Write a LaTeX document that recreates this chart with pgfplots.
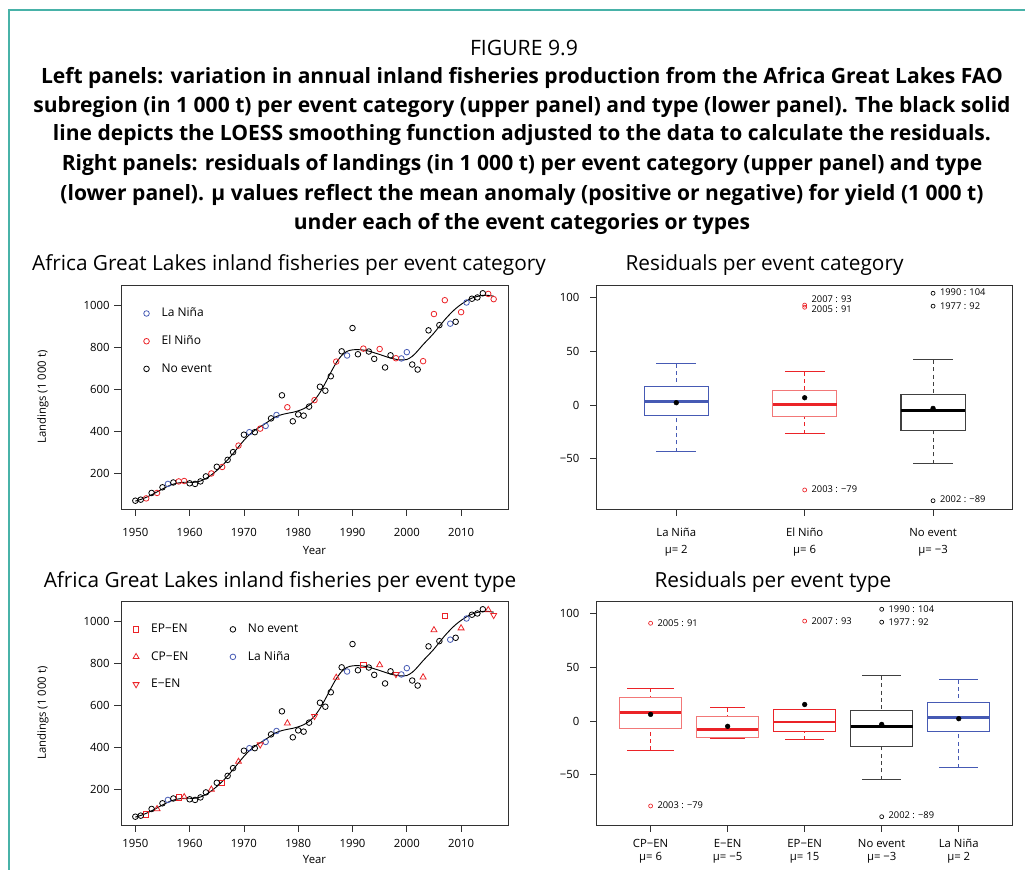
\documentclass[border=0pt]{standalone}
\usepackage{pgfplots}
\pgfplotsset{compat=1.18}
\usepgfplotslibrary{statistics}
\usepackage{pgfplotstable}
\usepackage{fontspec}
\setmainfont{Open Sans}
\definecolor{rblue}{RGB}{70,90,180}
\definecolor{rred}{RGB}{235,35,40}
\definecolor{lred}{RGB}{242,120,120}
\definecolor{tealb}{RGB}{72,178,168}
\definecolor{frame}{RGB}{50,50,50}

% La Nina years
\pgfplotstableread{
year val
1956 148
1971 395
1974 425
1976 477
1989 761
1999 747
2000 777
2008 913
2011 1014
}\tLN
% EP-EN
\pgfplotstableread{
year val
1952 79
1958 160
1966 229
1992 794
2007 1025
}\tEP
% CP-EN
\pgfplotstableread{
year val
1954 105
1959 162
1964 198
1969 331
1978 514
1987 732
1995 792
2003 734
2005 959
2010 968
2015 1055
}\tCP
% E-EN
\pgfplotstableread{
year val
1973 412
1983 548
1998 748
2016 1030
}\tE
% No event
\pgfplotstableread{
year val
1950 68
1951 73
1953 105
1955 132
1957 155
1960 151
1961 148
1962 160
1963 184
1965 230
1967 263
1968 300
1970 383
1972 395
1975 461
1977 571
1979 447
1980 480
1981 474
1982 517
1984 612
1985 593
1986 662
1988 781
1990 892
1991 767
1993 780
1994 745
1996 704
1997 762
2001 718
2002 694
2004 881
2006 906
2009 922
2012 1032
2013 1038
2014 1058
}\tN
% LOESS fit
\pgfplotstableread{
year val
1950 66
1951 74
1952 84
1953 96
1954 110
1955 124
1956 137
1957 147
1958 153
1959 156
1960 156
1961 156
1962 162
1963 174
1964 191
1965 212
1966 236
1967 263
1968 293
1969 325
1970 356
1971 383
1972 404
1973 421
1974 437
1975 455
1976 470
1977 479
1978 485
1979 490
1980 497
1981 507
1982 523
1983 548
1984 584
1985 630
1986 680
1987 726
1988 761
1989 781
1990 788
1991 789
1992 787
1993 782
1994 774
1995 766
1996 757
1997 749
1998 743
1999 740
2000 742
2001 757
2002 783
2003 813
2004 840
2005 868
2006 900
2007 932
2008 960
2009 985
2010 1005
2011 1022
2012 1035
2013 1043
2014 1048
2015 1048
2016 1044
}\tL

\tikzset{lab/.style={anchor=west, inner sep=0pt, xshift=5pt, font=\fontsize{7}{8}\selectfont}}
\pgfplotsset{
  base/.style={scale only axis,
    axis line style={frame, line width=0.7pt},
    tick style={frame, line width=0.6pt},
    tick align=outside, major tick length=5pt,
    xtick pos=bottom, ytick pos=left,
    ticklabel style={font=\fontsize{8.5}{10}\selectfont},
    xticklabel style={yshift=-6pt},
    /pgf/number format/assume math mode=true,
    /pgf/number format/set thousands separator={},
  },
  leftax/.style={base, width=290.25pt, height=168pt,
    xmin=1947.36, xmax=2018.64, ymin=28.4, ymax=1097.6,
    xtick={1950,1960,...,2010}, ytick={200,400,...,1000},
    xlabel={Year}, ylabel={Landings (1 000 t)},
    label style={font=\fontsize{8.5}{10}\selectfont},
    xlabel style={at={(axis description cs:0.5,-0.1845)}, anchor=center},
    ylabel style={at={(axis description cs:-0.2016,0.5)}, anchor=center},
    legend image code/.code={\draw[##1] plot coordinates {(5pt,0pt)}; \path (0pt,0pt) (14pt,0pt);},
    legend style={draw=none, fill=none, font=\fontsize{9}{10}\selectfont,
      row sep=8.6pt, inner sep=0pt, cells={anchor=west}},
  },
  rightax/.style={base, width=312pt, height=168pt,
    ymin=-96.7, ymax=111.7, ytick={-50,0,50,100}, yticklabels={−50,0,50,100},
    yticklabel style={xshift=-4.5pt},
    xticklabel style={align=center, font=\fontsize{8.5}{12.75}\selectfont},
    boxplot/draw direction=y,
  },
  pt/.style={only marks, mark size=2.1pt, line width=0.6pt},
  /pgfplots/boxplot/draw/lower whisker/.code={%
    \draw[/pgfplots/boxplot/every whisker/.try, dash pattern=on 3pt off 2.5pt]
      (boxplot box cs:\pgfplotsboxplotvalue{lower whisker},0.5) -- (boxplot box cs:\pgfplotsboxplotvalue{lower quartile},0.5);
    \draw[/pgfplots/boxplot/every whisker/.try]
      (boxplot whisker cs:\pgfplotsboxplotvalue{lower whisker},0) -- (boxplot whisker cs:\pgfplotsboxplotvalue{lower whisker},1);
  },
  /pgfplots/boxplot/draw/upper whisker/.code={%
    \draw[/pgfplots/boxplot/every whisker/.try, dash pattern=on 3pt off 2.5pt]
      (boxplot box cs:\pgfplotsboxplotvalue{upper whisker},0.5) -- (boxplot box cs:\pgfplotsboxplotvalue{upper quartile},0.5);
    \draw[/pgfplots/boxplot/every whisker/.try]
      (boxplot whisker cs:\pgfplotsboxplotvalue{upper whisker},0) -- (boxplot whisker cs:\pgfplotsboxplotvalue{upper whisker},1);
  },
  bxblue/.style={boxplot/every box/.style={draw=rblue, line width=0.8pt},
    boxplot/every whisker/.style={draw=rblue, line width=0.7pt},
    boxplot/every median/.style={draw=rblue, line width=2.2pt}},
  bxred/.style={boxplot/every box/.style={draw=lred, line width=0.8pt},
    boxplot/every whisker/.style={draw=rred, line width=0.7pt},
    boxplot/every median/.style={draw=rred, line width=2.2pt}},
  bxredd/.style={boxplot/every box/.style={draw=rred, line width=0.8pt},
    boxplot/every whisker/.style={draw=rred, line width=0.7pt},
    boxplot/every median/.style={draw=rred, line width=2.2pt}},
  bxblack/.style={boxplot/every box/.style={draw=black!75, line width=0.8pt},
    boxplot/every whisker/.style={draw=black!75, line width=0.7pt},
    boxplot/every median/.style={draw=black, line width=2.2pt}},
}

\begin{document}
\begin{tikzpicture}
\useasboundingbox (0,0) rectangle (768.75pt,652.5pt);
\draw[tealb, line width=1.1pt] (6.75pt,0pt) -- (6.75pt,645pt) -- (768.75pt,645pt);

% Titles
\node[font=\fontsize{15.9}{18}\selectfont] at (393pt,616.5pt) {FIGURE 9.9};
\begin{scope}[every node/.style={font=\fontsize{15.8}{18}\selectfont\bfseries}]
\node at (391.5pt,594pt) {Left panels: variation in annual inland fisheries production from the Africa Great Lakes FAO};
\node at (391.5pt,572.25pt) {subregion (in 1 000 t) per event category (upper panel) and type (lower panel). The black solid};
\node at (391.5pt,551pt) {line depicts the LOESS smoothing function adjusted to the data to calculate the residuals.};
\node at (391.5pt,528.75pt) {Right panels: residuals of landings (in 1 000 t) per event category (upper panel) and type};
\node at (391.5pt,506.5pt) {(lower panel). μ values reflect the mean anomaly (positive or negative) for yield (1 000 t)};
\node at (391.5pt,484.7pt) {under each of the event categories or types};
\end{scope}
\begin{scope}[every node/.style={font=\fontsize{15.6}{18}\selectfont}]
\node at (216.75pt,453.75pt) {Africa Great Lakes inland fisheries per event category};
\node at (573.4pt,453.75pt) {Residuals per event category};
\node at (210pt,216pt) {Africa Great Lakes inland fisheries per event type};
\node at (579.75pt,216pt) {Residuals per event type};
\end{scope}

% ---------- top left ----------
\begin{axis}[leftax, at={(90.75pt,438.75pt)}, anchor=north west,
  legend style={at={(axis description cs:0.047,0.91)}, anchor=north west}]
\addlegendimage{pt, mark=o, rblue}\addlegendentry{La Niña}
\addlegendimage{pt, mark=o, rred}\addlegendentry{El Niño}
\addlegendimage{pt, mark=o, black}\addlegendentry{No event}
\addplot[black, line width=0.7pt, smooth, forget plot] table[x=year,y=val] {\tL};
\addplot[pt, mark=o, rblue, forget plot] table[x=year,y=val] {\tLN};
\addplot[pt, mark=o, rred, forget plot] table[x=year,y=val] {\tEP};
\addplot[pt, mark=o, rred, forget plot] table[x=year,y=val] {\tCP};
\addplot[pt, mark=o, rred, forget plot] table[x=year,y=val] {\tE};
\addplot[pt, mark=o, black, forget plot] table[x=year,y=val] {\tN};
\end{axis}

% ---------- bottom left ----------
\begin{axis}[leftax, at={(90.75pt,201.75pt)}, anchor=north west,
  xticklabel style={yshift=3.75pt},
  xlabel style={at={(axis description cs:0.5,-0.152)}},
  legend columns=2,
  legend style={at={(axis description cs:0.02,0.91)}, anchor=north west,
    /tikz/every even column/.append style={column sep=26pt}}]
\addlegendimage{pt, mark=square, mark size=1.9pt, rred}\addlegendentry{EP−EN}
\addlegendimage{pt, mark=o, black}\addlegendentry{No event}
\addlegendimage{pt, mark=triangle, mark size=2.6pt, rred}\addlegendentry{CP−EN}
\addlegendimage{pt, mark=o, rblue}\addlegendentry{La Niña}
\addlegendimage{pt, mark=triangle, mark size=2.6pt, mark options={rotate=180}, rred}\addlegendentry{E−EN}
\addplot[black, line width=0.7pt, smooth, forget plot] table[x=year,y=val] {\tL};
\addplot[pt, mark=o, rblue, forget plot] table[x=year,y=val] {\tLN};
\addplot[pt, mark=square, mark size=1.9pt, rred, forget plot] table[x=year,y=val] {\tEP};
\addplot[pt, mark=triangle, mark size=2.6pt, rred, forget plot] table[x=year,y=val] {\tCP};
\addplot[pt, mark=triangle, mark size=2.6pt, mark options={rotate=180}, rred, forget plot] table[x=year,y=val] {\tE};
\addplot[pt, mark=o, black, forget plot] table[x=year,y=val] {\tN};
\end{axis}

% ---------- top right ----------
\begin{axis}[rightax, at={(447.5pt,438.75pt)}, anchor=north west,
  xmin=0.38, xmax=3.62, xtick={1,2,3},
  xticklabels={{La Niña\\μ= 2},{El Niño\\μ= 6},{No event\\μ= −3}}]
\addplot[bxblue, boxplot prepared={draw position=1, box extend=0.5, whisker extend=0.31,
  median=3.4, upper quartile=16.9, lower quartile=-9.5, upper whisker=38.5, lower whisker=-43.4}] coordinates {};
\addplot[bxred, boxplot prepared={draw position=2, box extend=0.5, whisker extend=0.31,
  median=0.6, upper quartile=13.5, lower quartile=-10.8, upper whisker=31, lower whisker=-26.5}] coordinates {};
\addplot[bxblack, boxplot prepared={draw position=3, box extend=0.5, whisker extend=0.31,
  median=-4.9, upper quartile=10.2, lower quartile=-24, upper whisker=42, lower whisker=-54.5}] coordinates {};
\addplot[only marks, mark=*, mark size=1.75pt, black] coordinates {(1,2.2) (2,6.8) (3,-3.1)};
\addplot[only marks, mark=o, mark size=1.5pt, line width=0.5pt, rred] coordinates {(2,93) (2,91) (2,-79)};
\addplot[only marks, mark=o, mark size=1.5pt, line width=0.5pt, black] coordinates {(3,104) (3,92) (3,-89)};
\node[lab] at (axis cs:2,98.2) {2007 : 93};
\node[lab] at (axis cs:2,88.9) {2005 : 91};
\node[lab] at (axis cs:2,-78.5) {2003 : −79};
\node[lab] at (axis cs:3,104.9) {1990 : 104};
\node[lab] at (axis cs:3,92) {1977 : 92};
\node[lab] at (axis cs:3,-88) {2002 : −89};
\end{axis}

% ---------- bottom right ----------
\begin{axis}[rightax, at={(447.5pt,201.75pt)}, anchor=north west,
  xmin=0.3, xmax=5.7, xtick={1,2,3,4,5},
  xticklabel style={yshift=3.75pt, font=\fontsize{8.5}{9.75}\selectfont},
  xticklabels={{CP−EN\\μ= 6},{E−EN\\μ= −5},{EP−EN\\μ= 15},{No event\\μ= −3},{La Niña\\μ= 2}}]
\addplot[bxred, boxplot prepared={draw position=1, box extend=0.8, whisker extend=0.6,
  median=8, upper quartile=21.9, lower quartile=-6.5, upper whisker=30.5, lower whisker=-27.2}] coordinates {};
\addplot[bxred, boxplot prepared={draw position=2, box extend=0.8, whisker extend=0.45,
  median=-8, upper quartile=4.6, lower quartile=-15.1, upper whisker=12.3, lower whisker=-16.4}] coordinates {};
\addplot[bxredd, boxplot prepared={draw position=3, box extend=0.8, whisker extend=0.5,
  median=-0.9, upper quartile=11.1, lower quartile=-9.9, upper whisker=11.1, lower whisker=-17.3}] coordinates {};
\addplot[bxblack, boxplot prepared={draw position=4, box extend=0.8, whisker extend=0.5,
  median=-4.9, upper quartile=10.2, lower quartile=-24, upper whisker=42, lower whisker=-54.5}] coordinates {};
\addplot[bxblue, boxplot prepared={draw position=5, box extend=0.8, whisker extend=0.5,
  median=3.4, upper quartile=16.9, lower quartile=-9.5, upper whisker=38.5, lower whisker=-43.4}] coordinates {};
\addplot[only marks, mark=*, mark size=1.75pt, black] coordinates {(1,6.2) (2,-4.9) (3,15.4) (4,-3.1) (5,2.2)};
\addplot[only marks, mark=o, mark size=1.5pt, line width=0.5pt, rred] coordinates {(1,91) (1,-79) (3,93)};
\addplot[only marks, mark=o, mark size=1.5pt, line width=0.5pt, black] coordinates {(4,104) (4,92) (4,-89)};
\node[lab] at (axis cs:1,91) {2005 : 91};
\node[lab] at (axis cs:1,-78.7) {2003 : −79};
\node[lab] at (axis cs:3,93) {2007 : 93};
\node[lab] at (axis cs:4,104.3) {1990 : 104};
\node[lab] at (axis cs:4,92) {1977 : 92};
\node[lab] at (axis cs:4,-88) {2002 : −89};
\end{axis}
\end{tikzpicture}
\end{document}
